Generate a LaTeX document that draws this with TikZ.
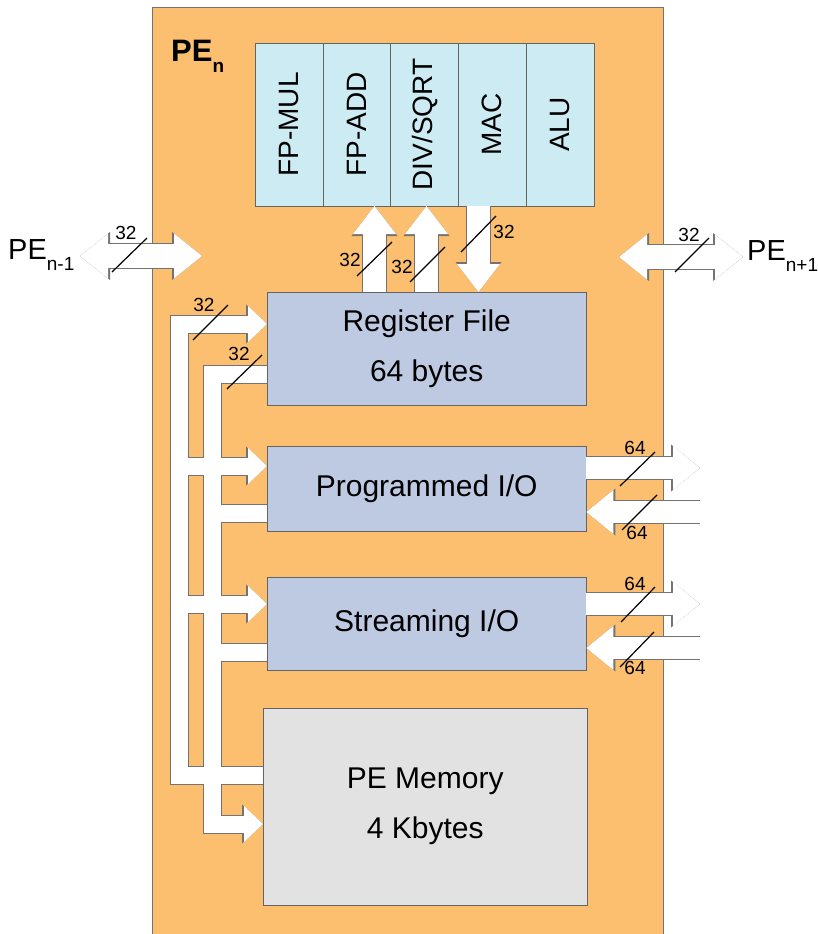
\documentclass[tikz,border=0pt]{standalone}
\usepackage{fontspec}
\setmainfont{Liberation Sans}
\usetikzlibrary{arrows.meta,positioning,calc}
\definecolor{peorange}{RGB}{251,191,111}
\definecolor{fucyan}{RGB}{205,235,243}
\definecolor{blockblue}{RGB}{190,201,226}
\definecolor{memgray}{RGB}{226,226,226}
\definecolor{rimgray}{RGB}{115,115,115}
\definecolor{boxline}{RGB}{100,100,100}
\newcommand{\lowidx}[1]{\raisebox{-11pt}{\fontsize{19}{19}\selectfont #1}}

% all white data paths; drawn twice (grey rim, then white body)
\newcommand{\datapaths}{%
  \draw[busto] (memout) -| (outer |- rfin) -- (rfin);
  \draw[busto] (outer |- pioin) -- (pioin);
  \draw[busto] (outer |- sioin) -- (sioin);
  \draw[busto] (rfout) -| (inner |- memin) -- (memin);
  \draw[bus] (pioout) -- (inner |- pioout);
  \draw[bus] (sioout) -- (inner |- sioout);
  \draw[fulink] (up1 |- regfile.north) -- (up1 |- fpadd.south);
  \draw[fulink] (up2 |- regfile.north) -- (up2 |- divsqrt.south);
  \draw[fulink] (dn |- mac.south) -- (dn |- regfile.north);
  \draw[iolink] (pioR) -- (rimx |- pioR);
  \draw[iolink] (rimx |- pioL) -- (pioL);
  \draw[iolink] (sioR) -- (rimx |- sioR);
  \draw[iolink] (rimx |- sioL) -- (sioL);
  \draw[pelink] (wl) -- (wr);
  \draw[pelink] (el) -- (er);
}

\begin{document}
\begin{tikzpicture}[
  x=1pt,y=-1pt,
  unit/.style={draw=boxline,fill=fucyan,minimum width=67.8pt,minimum height=163pt,
    inner sep=0pt,outer sep=0pt,anchor=north west,font=\fontsize{28}{30}\selectfont},
  block/.style={draw=boxline,fill=blockblue,inner sep=0pt,anchor=north west,
    align=center,font=\fontsize{30}{50}\selectfont},
  slash/.style={draw=black,line width=1.2pt},
  buslabel/.style={font=\fontsize{19}{19}\selectfont,inner sep=0pt},
  pename/.style={anchor=base west,inner sep=0pt,font=\fontsize{29}{29}\selectfont}
]
\useasboundingbox[fill=white] (0,0) rectangle (818,934);
\node[draw=rimgray,fill=peorange,minimum width=511pt,minimum height=950pt,
  anchor=north west,inner sep=0pt] (pe) at (151.5,7.5) {};
\node[pename,font=\fontsize{31}{31}\selectfont\bfseries] (pen) at (171,62) {PE\lowidx{n}};

% functional units
\node[unit] (fpmul) at (255,43) {\rotatebox{90}{FP-MUL}};
\node[unit,right=0pt of fpmul] (fpadd) {\rotatebox{90}{FP-ADD}};
\node[unit,right=0pt of fpadd] (divsqrt) {\rotatebox{90}{DIV/SQRT}};
\node[unit,right=0pt of divsqrt] (mac) {\rotatebox{90}{MAC}};
\node[unit,right=0pt of mac] (alu) {\rotatebox{90}{ALU}};

\node[block,minimum width=319pt,minimum height=113pt] (regfile) at (267,292) {Register File\\64 bytes};
\node[block,minimum width=319pt,minimum height=85pt] (progio) at (267,446) {Programmed I/O};
\node[block,minimum width=319pt,minimum height=93pt] (streamio) at (267,577) {Streaming I/O};
\node[block,fill=memgray,minimum width=324pt,minimum height=197pt] (pemem) at (263,708) {PE Memory\\4 Kbytes};

\node[pename] (prev) at (8,259) {PE\lowidx{n-1}};
\node[pename] (next) at (747,260) {PE\lowidx{n+1}};

% path end points
\coordinate (outer) at (179,0);
\coordinate (inner) at (212.5,0);
\coordinate (rimx) at (700,0);
\coordinate (up1) at (374.5,0);
\coordinate (up2) at (426.5,0);
\coordinate (dn) at (478.5,0);
\coordinate (rfin) at ($(regfile.north west)+(0,32)$);
\coordinate (rfout) at ($(regfile.south west)+(0,-31)$);
\coordinate (pioin) at ($(progio.north west)+(0,20)$);
\coordinate (pioout) at ($(progio.south west)+(0,-18)$);
\coordinate (sioin) at ($(streamio.north west)+(0,27)$);
\coordinate (sioout) at ($(streamio.south west)+(0,-18)$);
\coordinate (memout) at ($(pemem.north west)+(0,67)$);
\coordinate (memin) at ($(pemem.north west)+(0,116)$);
\coordinate (pioR) at ($(progio.north east)+(0,22)$);
\coordinate (pioL) at ($(progio.north east)+(0,66)$);
\coordinate (sioR) at ($(streamio.north east)+(0,27)$);
\coordinate (sioL) at ($(streamio.north east)+(0,71)$);
\coordinate (wl) at (80,256);
\coordinate (wr) at (202,256);
\coordinate (el) at (619,257);
\coordinate (er) at (743,257);

% grey rim
\tikzset{
  bus/.style={draw=rimgray,line width=19pt},
  busto/.style={bus,-{Triangle[width=39pt,length=21pt,line width=0pt]}},
  fulink/.style={draw=rimgray,line width=25pt,-{Triangle[width=46pt,length=30pt,line width=0pt]}},
  iolink/.style={draw=rimgray,line width=24pt,-{Triangle[width=47pt,length=29pt,line width=0pt]}},
  pelink/.style={draw=rimgray,line width=26pt,
    {Triangle[width=48pt,length=30pt,line width=0pt]}-{Triangle[width=48pt,length=30pt,line width=0pt]}}
}
\datapaths
% white body
\tikzset{
  bus/.style={draw=white,line width=17pt},
  busto/.style={bus,-{Triangle[width=36pt,length=19pt,line width=0pt]}},
  fulink/.style={draw=white,line width=23pt,-{Triangle[width=43pt,length=28pt,line width=0pt]}},
  iolink/.style={draw=white,line width=22pt,-{Triangle[width=44pt,length=27pt,line width=0pt]}},
  pelink/.style={draw=white,line width=24pt,
    {Triangle[width=45pt,length=28pt,line width=0pt]}-{Triangle[width=45pt,length=28pt,line width=0pt]}}
}
\datapaths

% bus widths
\draw[slash] (112,272) -- (147,238);
\node[buslabel] (w1) at (126,233) {32};
\draw[slash] (675,272) -- (709,238);
\node[buslabel] (w2) at (689,235) {32};
\draw[slash] (357,276) -- (392,242);
\node[buslabel] (w3) at (350,260) {32};
\draw[slash] (410,282) -- (445,247);
\node[buslabel] (w4) at (402,267) {32};
\draw[slash] (461,252) -- (496,216);
\node[buslabel] (w5) at (504,232) {32};
\draw[slash] (193,340) -- (228,305);
\node[buslabel] (w6) at (204,305) {32};
\draw[slash] (227,389) -- (262,355);
\node[buslabel] (w7) at (239,354) {32};
\draw[slash] (620,486) -- (655,452);
\node[buslabel] (w8) at (635,448) {64};
\draw[slash] (622,530) -- (657,495);
\node[buslabel] (w9) at (637,533) {64};
\draw[slash] (621,622) -- (655,587);
\node[buslabel] (w10) at (635,584) {64};
\draw[slash] (620,667) -- (654,632);
\node[buslabel] (w11) at (635,668) {64};
\end{tikzpicture}
\end{document}
